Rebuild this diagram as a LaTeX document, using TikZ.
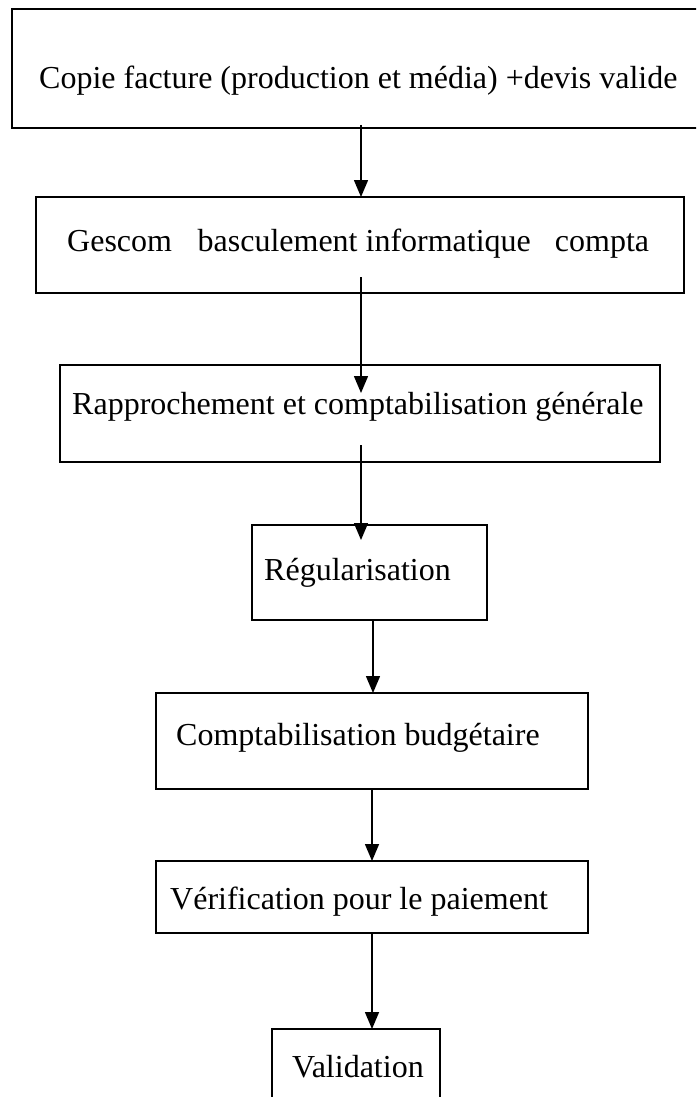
\documentclass[tikz,border=0pt]{standalone}
\usepackage{fontspec}
\setmainfont{Liberation Serif}
\usetikzlibrary{arrows.meta}
\begin{document}
\begin{tikzpicture}[x=1pt,y=-1pt,
  box/.style={draw,line width=1.6pt,rectangle,inner sep=0pt,outer sep=0pt},
  lbl/.style={anchor=base west,inner sep=0pt,font=\fontsize{32}{38}\selectfont},
  arr/.style={line width=1.5pt,-{Triangle[width=14pt,length=17pt]}}]
\clip (0,0) rectangle (696,1097);
\fill[white] (0,0) rectangle (696,1097);
% boxes
\node[box,minimum width=698pt,minimum height=119pt] (b1) at (361,68.5) {};
\node[box,minimum width=648pt,minimum height=96pt] (b2) at (360,245) {};
\node[box,minimum width=600pt,minimum height=97pt] (b3) at (360,413.5) {};
\node[box,minimum width=235pt,minimum height=95pt] (b4) at (369.5,572.5) {};
\node[box,minimum width=432pt,minimum height=96pt] (b5) at (372,741) {};
\node[box,minimum width=432pt,minimum height=72pt] (b6) at (372,897) {};
\node[box,minimum width=168pt,minimum height=101pt] (b7) at (356,1079.5) {};
% labels
\node[lbl] (t1) at (39,89) {Copie facture (production et média) +devis valide};
\node[lbl] (t2) at (67,251) {Gescom\hspace*{0.55em} basculement informatique\hspace*{0.5em} compta};
\node[lbl] (t3) at (72,414) {Rapprochement et comptabilisation générale};
\node[lbl] (t4) at (264,580) {Régularisation};
\node[lbl] (t5) at (176,745) {Comptabilisation budgétaire};
\node[lbl] (t6) at (170,909) {Vérification pour le paiement};
\node[lbl] (t7) at (292,1077) {Validation};
% connectors
\coordinate (a1) at (361,125);
\draw[arr] (a1) -- (a1 |- b2.north);
\coordinate (a2s) at (361,277);
\coordinate (a2e) at (361,393);
\draw[arr] (a2s) -- (a2e);
\coordinate (a3s) at (361,445);
\coordinate (a3e) at (361,540);
\draw[arr] (a3s) -- (a3e);
\coordinate (a4) at (373,620);
\draw[arr] (a4) -- (a4 |- b5.north);
\coordinate (a5) at (372,789);
\draw[arr] (a5) -- (a5 |- b6.north);
\coordinate (a6) at (372,933);
\draw[arr] (a6) -- (a6 |- b7.north);
\end{tikzpicture}
\end{document}
